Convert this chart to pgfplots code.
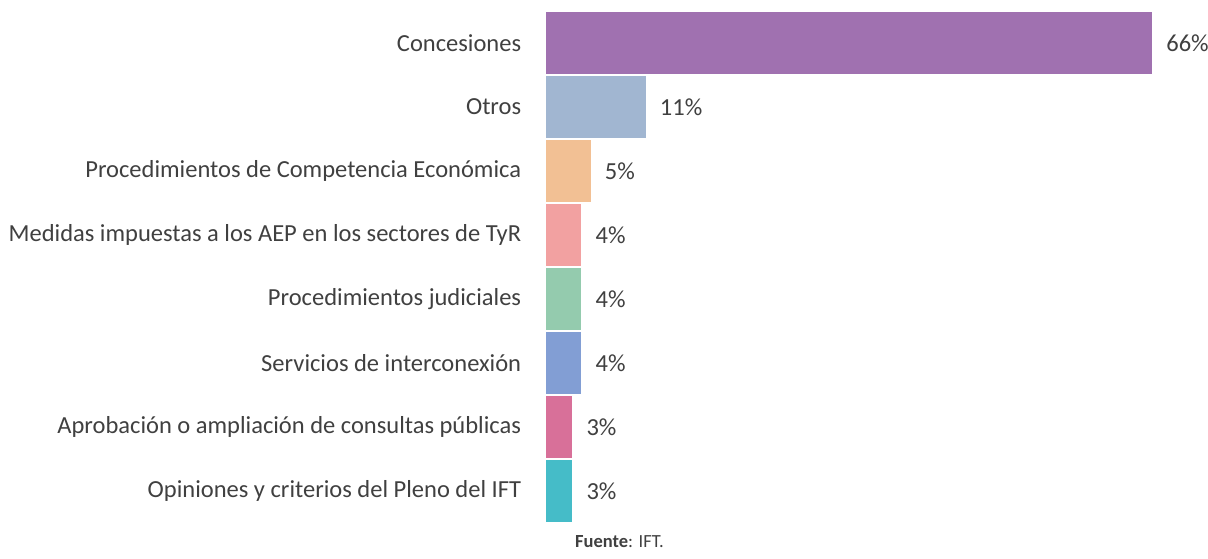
\documentclass[border=0pt]{standalone}
\usepackage{pgfplots}
\pgfplotsset{compat=1.18}
\usepackage{fontspec}
\setmainfont{Carlito}
\definecolor{txt}{HTML}{404040}
\definecolor{c1}{HTML}{A071B0}
\definecolor{c2}{HTML}{A1B6D1}
\definecolor{c3}{HTML}{F2C094}
\definecolor{c4}{HTML}{F2A1A1}
\definecolor{c5}{HTML}{94CBAE}
\definecolor{c6}{HTML}{829ED4}
\definecolor{c7}{HTML}{D87099}
\definecolor{c8}{HTML}{45BCC8}
\begin{document}
\fontsize{24.5pt}{28pt}\selectfont
\begin{tikzpicture}
\path[use as bounding box] (0,0) rectangle (1208pt,558pt);
\begin{axis}[
  at={(546.5pt,35pt)}, anchor=south west,
  scale only axis,
  width=605.5pt, height=512pt,
  xmin=0, xmax=66,
  ymin=-0.5, ymax=7.5,
  y dir=reverse,
  xbar, bar width=62pt, bar shift=0pt,
  axis line style={draw=none},
  major tick length=0pt,
  xtick=\empty,
  ytick={0,1,2,3,4,5,6,7},
  yticklabels={Concesiones,Otros,Procedimientos de Competencia Económica,Medidas impuestas a los AEP en los sectores de TyR,Procedimientos judiciales,Servicios de interconexión,Aprobación o ampliación de consultas públicas,Opiniones y criterios del Pleno del IFT},
  yticklabel style={font=\fontsize{24.5pt}{28pt}\selectfont, text=txt, anchor=east, xshift=-17pt},
  clip=false,
  point meta=x,
  /pgf/number format/assume math mode=true,
  nodes near coords={\pgfmathprintnumber[fixed,precision=0,assume math mode=true]{\pgfplotspointmeta}\%},
  nodes near coords align=right,
  every node near coord/.append style={font=\fontsize{24.5pt}{28pt}\selectfont, text=txt, xshift=6pt},
]
\addplot[fill=c1, draw=none] coordinates {(66.0,0)};
\addplot[fill=c2, draw=none] coordinates {(10.8,1)};
\addplot[fill=c3, draw=none] coordinates {(4.8,2)};
\addplot[fill=c4, draw=none] coordinates {(3.8,3)};
\addplot[fill=c5, draw=none] coordinates {(3.8,4)};
\addplot[fill=c6, draw=none] coordinates {(3.8,5)};
\addplot[fill=c7, draw=none] coordinates {(2.8,6)};
\addplot[fill=c8, draw=none] coordinates {(2.8,7)};
\end{axis}
\node[anchor=west, text=txt, font=\fontsize{18.5pt}{22pt}\selectfont, inner sep=0pt] at (575pt,16pt) {\textbf{Fuente}: IFT.};
\end{tikzpicture}
\end{document}
